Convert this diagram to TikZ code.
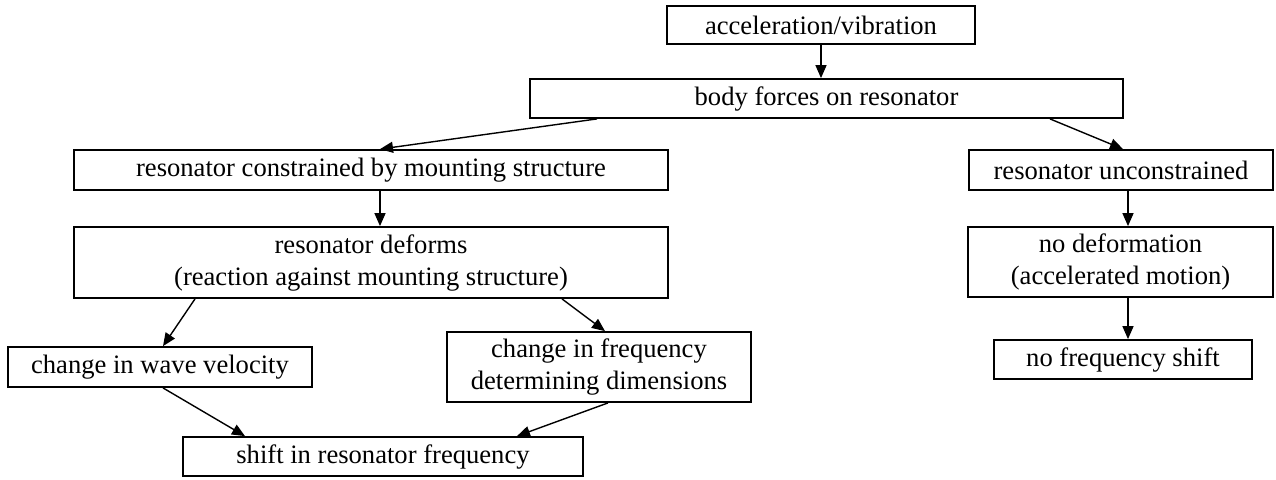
\documentclass[tikz,border=0pt]{standalone}
\usepackage{fontspec}
\setmainfont{Liberation Serif}
\usepackage{tikz}
\usetikzlibrary{arrows.meta,calc}
\tikzset{
	box/.style 2 args={draw,line width=0.9pt,minimum width=#1,minimum height=#2,inner sep=2pt,align=center,font=\fontsize{13.3}{16}\selectfont},
	arr/.style={-{Triangle[length=6.5pt,width=5.5pt]},line width=0.7pt}
}
\begin{document}
\begin{tikzpicture}[x=0.5pt,y=-0.5pt]
	\useasboundingbox (0,0) rectangle (1276,479);
	\node [box={154pt}{19pt}] (acc) at (821,25) {acceleration/vibration};
	\node [box={296.5pt}{19.5pt}] (body) at (826.5,98.5) {body forces on resonator};
	\node [box={297pt}{20pt}] (cons) at (371,170) {resonator constrained by mounting structure};
	\node [box={152pt}{20pt}] (uncons) at (1121,170) {resonator unconstrained};
	\node [box={297pt}{35.5pt}] (deforms) at (371,262.5) {resonator deforms\\(reaction against mounting structure)};
	\node [box={152.5pt}{35pt}] (nodef) at (1120.5,262) {no deformation\\(accelerated motion)};
	\node [box={152pt}{20pt}] (wave) at (160,367) {change in wave velocity};
	\node [box={152pt}{35pt}] (dims) at (599,367) {change in frequency\\determining dimensions};
	\node [box={129pt}{19.5pt}] (noshift) at (1123,359.5) {no frequency shift};
	\node [box={200pt}{19.5pt}] (shift) at (383,456.5) {shift in resonator frequency};

	\draw [arr] (acc.south) -- (acc.south |- body.north);
	\draw [arr] ($(body.south)+(-229.5,0)$) -- ($(cons.north)+(9,0)$);
	\draw [arr] ($(body.south)+(223.5,0)$) -- ($(uncons.north)+(2,0)$);
	\draw [arr] ($(cons.south)+(9,0)$) -- ($(deforms.north)+(9,0)$);
	\draw [arr] ($(uncons.south)+(7,0)$) -- ($(nodef.north)+(7.5,0)$);
	\draw [arr] ($(nodef.south)+(7.5,0)$) -- ($(noshift.north)+(5,0)$);
	\draw [arr] ($(deforms.south)+(-176,0)$) -- ($(wave.north)+(3,0)$);
	\draw [arr] ($(deforms.south)+(191,0)$) -- ($(dims.north)+(6,0)$);
	\draw [arr] ($(wave.south)+(3,0)$) -- ($(shift.north)+(-138,0)$);
	\draw [arr] ($(dims.south)+(9,0)$) -- ($(shift.north)+(134,0)$);
\end{tikzpicture}
\end{document}
